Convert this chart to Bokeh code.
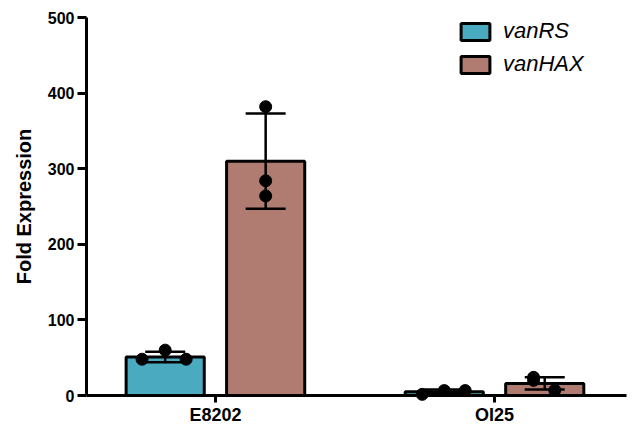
from bokeh.plotting import figure
from bokeh.models import (FixedTicker, Legend, LegendItem, ColumnDataSource,
                          Whisker, TeeHead, Range1d)
from bokeh.embed import file_html
from bokeh.resources import INLINE

# ---- data ----
strains = ["E8202", "OI25"]
genes = ["vanRS", "vanHAX"]
vanRS_mean = [51, 4.8]
vanRS_sd = [7, 3]
vanHAX_mean = [310, 16]
vanHAX_sd = [63, 8]
vanRS_reps = [[48, 60, 48], [1.5, 6.5, 6.5]]
vanHAX_reps = [[382, 284, 264], [24, 20, 7]]

# ---- style ----
colors = {"vanRS": "#49AAC0", "vanHAX": "#B07C72"}
offsets = {"vanRS": -0.18, "vanHAX": 0.18}
bar_w = 0.28
jitter = {"vanRS": [[-0.083, 0.0, 0.075], [-0.079, 0.0, 0.075]],
          "vanHAX": [[0.0, 0.0, 0.0], [-0.04, -0.04, 0.036]]}
FONT = "Liberation Sans"

p = figure(width=636, height=427, output_backend="svg", toolbar_location=None,
           x_range=Range1d(-0.462, 1.473), y_range=Range1d(0, 500),
           min_border_left=86, min_border_right=10, min_border_top=17,
           min_border_bottom=32)
p.outline_line_color = None
p.grid.visible = False

means = {"vanRS": vanRS_mean, "vanHAX": vanHAX_mean}
sds = {"vanRS": vanRS_sd, "vanHAX": vanHAX_sd}
reps = {"vanRS": vanRS_reps, "vanHAX": vanHAX_reps}

bar_renderers = {}
for g in genes:
    xs = [i + offsets[g] for i in range(len(strains))]
    src = ColumnDataSource(dict(x=xs, top=means[g],
                                upper=[m + s for m, s in zip(means[g], sds[g])],
                                lower=[m - s for m, s in zip(means[g], sds[g])]))
    r = p.vbar(x="x", top="top", bottom=0, width=bar_w, source=src,
               fill_color=colors[g], line_color="black", line_width=3)
    bar_renderers[g] = r
    w = Whisker(base="x", upper="upper", lower="lower", source=src,
                line_width=2.5, line_color="black", level="annotation",
                upper_head=TeeHead(size=40, line_width=2.5, line_color="black"),
                lower_head=TeeHead(size=40, line_width=2.5, line_color="black"))
    p.add_layout(w)

for g in genes:
    px, py = [], []
    for i in range(len(strains)):
        for j, v in enumerate(reps[g][i]):
            px.append(i + offsets[g] + jitter[g][i][j])
            py.append(v)
    s = p.scatter(px, py, size=12, color="black")
    s.level = "overlay"

# axes
p.xaxis.ticker = FixedTicker(ticks=list(range(len(strains))))
p.xaxis.major_label_overrides = {i: s for i, s in enumerate(strains)}
p.xaxis.axis_line_width = 3
p.xaxis.major_tick_line_width = 3
p.xaxis.major_tick_out = 7
p.xaxis.major_tick_in = 0
p.xaxis.minor_tick_line_color = None
p.xaxis.major_label_text_font = FONT
p.xaxis.major_label_text_font_style = "bold"
p.xaxis.major_label_text_font_size = "18px"
p.xaxis.major_label_standoff = 2
p.xaxis.major_label_text_color = "black"

p.yaxis.ticker = FixedTicker(ticks=[0, 100, 200, 300, 400, 500])
p.yaxis.axis_line_width = 3
p.yaxis.major_tick_line_width = 3
p.yaxis.major_tick_out = 9
p.yaxis.major_tick_in = 0
p.yaxis.minor_tick_line_color = None
p.yaxis.major_label_text_font = FONT
p.yaxis.major_label_text_font_style = "bold"
p.yaxis.major_label_text_font_size = "16px"
p.yaxis.major_label_standoff = 3
p.yaxis.major_label_text_color = "black"
p.yaxis.axis_label = "Fold Expression"
p.yaxis.axis_label_text_font = FONT
p.yaxis.axis_label_text_font_style = "bold"
p.yaxis.axis_label_text_font_size = "20px"
p.yaxis.axis_label_standoff = 10
p.yaxis.axis_label_text_color = "black"

legend = Legend(items=[LegendItem(label=g, renderers=[bar_renderers[g]]) for g in genes],
                location=(371, 318), glyph_width=36, glyph_height=21,
                label_text_font=FONT, label_text_font_style="italic",
                label_text_font_size="22px", label_text_color="black",
                label_standoff=10, spacing=7,
                padding=0, margin=0, border_line_color=None,
                background_fill_alpha=0, label_height=21)
p.add_layout(legend)

open("out.html", "w").write(file_html(p, INLINE))
